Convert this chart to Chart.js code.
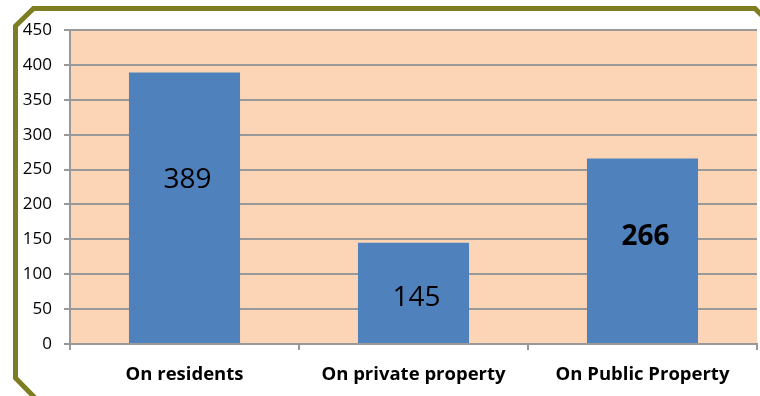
<!DOCTYPE html>
<html>
<head>
<meta charset="utf-8">
<script src="https://cdn.jsdelivr.net/npm/chart.js@4/dist/chart.umd.min.js"></script>
<style>
  html, body { margin: 0; padding: 0; background: #fff; }
  #wrap { width: 760px; height: 396px; }
</style>
</head>
<body>
<div id="wrap"><canvas id="offences" width="760" height="396"></canvas></div>
<script>
var categories = ["On residents", "On private property", "On Public Property"];
var counts = [389, 145, 266];
// height (in axis units) where each count label sits inside its bar
var labelLevels = [235, 66, 153];
var boldLabel = [false, false, true];
var yTicks = [0, 50, 100, 150, 200, 250, 300, 350, 400, 450];

var frame = {
    id: 'frame',
    beforeDraw: function(chart) {
        var c = chart.ctx, a = chart.chartArea;
        c.save();
        c.fillStyle = '#ffffff';
        c.fillRect(0, 0, chart.width, chart.height);
        c.fillStyle = '#fbd5b5';
        c.fillRect(a.left, a.top, a.right - a.left, a.bottom - a.top);
        // olive octagon frame, bottom and right edges run off the canvas
        c.strokeStyle = '#7e7d22';
        c.lineWidth = 5;
        c.lineJoin = 'miter';
        c.beginPath();
        c.moveTo(15.5, 378);
        c.lineTo(15.5, 26);
        c.lineTo(33.5, 8.5);
        c.lineTo(755, 8.5);
        c.lineTo(785, 38);
        c.lineTo(785, 380);
        c.lineTo(760, 405);
        c.lineTo(42, 405);
        c.closePath();
        c.stroke();
        c.restore();
    }
};

var countLabels = {
    id: 'countLabels',
    afterDatasetsDraw: function(chart) {
        var c = chart.ctx;
        var meta = chart.getDatasetMeta(0);
        var y = chart.scales.y;
        c.save();
        c.fillStyle = '#000';
        c.textAlign = 'center';
        c.textBaseline = 'middle';
        meta.data.forEach(function(bar, i) {
            c.font = (boldLabel[i] ? 'bold ' : '') + '28px "Open Sans"';
            c.fillText(String(counts[i]), bar.x + 3, y.getPixelForValue(labelLevels[i]));
        });
        c.restore();
    }
};

new Chart(document.getElementById('offences').getContext('2d'), {
    type: 'bar',
    data: {
        labels: categories,
        datasets: [{
            data: counts,
            backgroundColor: '#4f81bd',
            borderWidth: 0,
            barPercentage: 0.485,
            categoryPercentage: 1
        }]
    },
    options: {
        responsive: false,
        animation: false,
        layout: { padding: { top: 30, right: 3, left: 0, bottom: 0 } },
        plugins: { legend: { display: false }, tooltip: { enabled: false } },
        scales: {
            x: {
                offset: true,
                grid: { offset: true, drawOnChartArea: false, color: '#999', lineWidth: 2, tickLength: 6 },
                border: { color: '#999', width: 2 },
                ticks: { color: '#000', padding: 14, font: { family: 'Open Sans', size: 18.5, weight: 'bold' } },
                afterFit: function(s) { s.height = 52; }
            },
            y: {
                min: 0,
                max: 450,
                afterBuildTicks: function(s) { s.ticks = yTicks.map(function(v) { return { value: v }; }); },
                grid: { color: '#999', lineWidth: 2, tickLength: 6 },
                border: { color: '#999', width: 2 },
                ticks: { color: '#000', padding: 12, font: { family: 'Open Sans', size: 17 } },
                afterFit: function(s) { s.width = 70; }
            }
        }
    },
    plugins: [frame, countLabels]
});
</script>
</body>
</html>
